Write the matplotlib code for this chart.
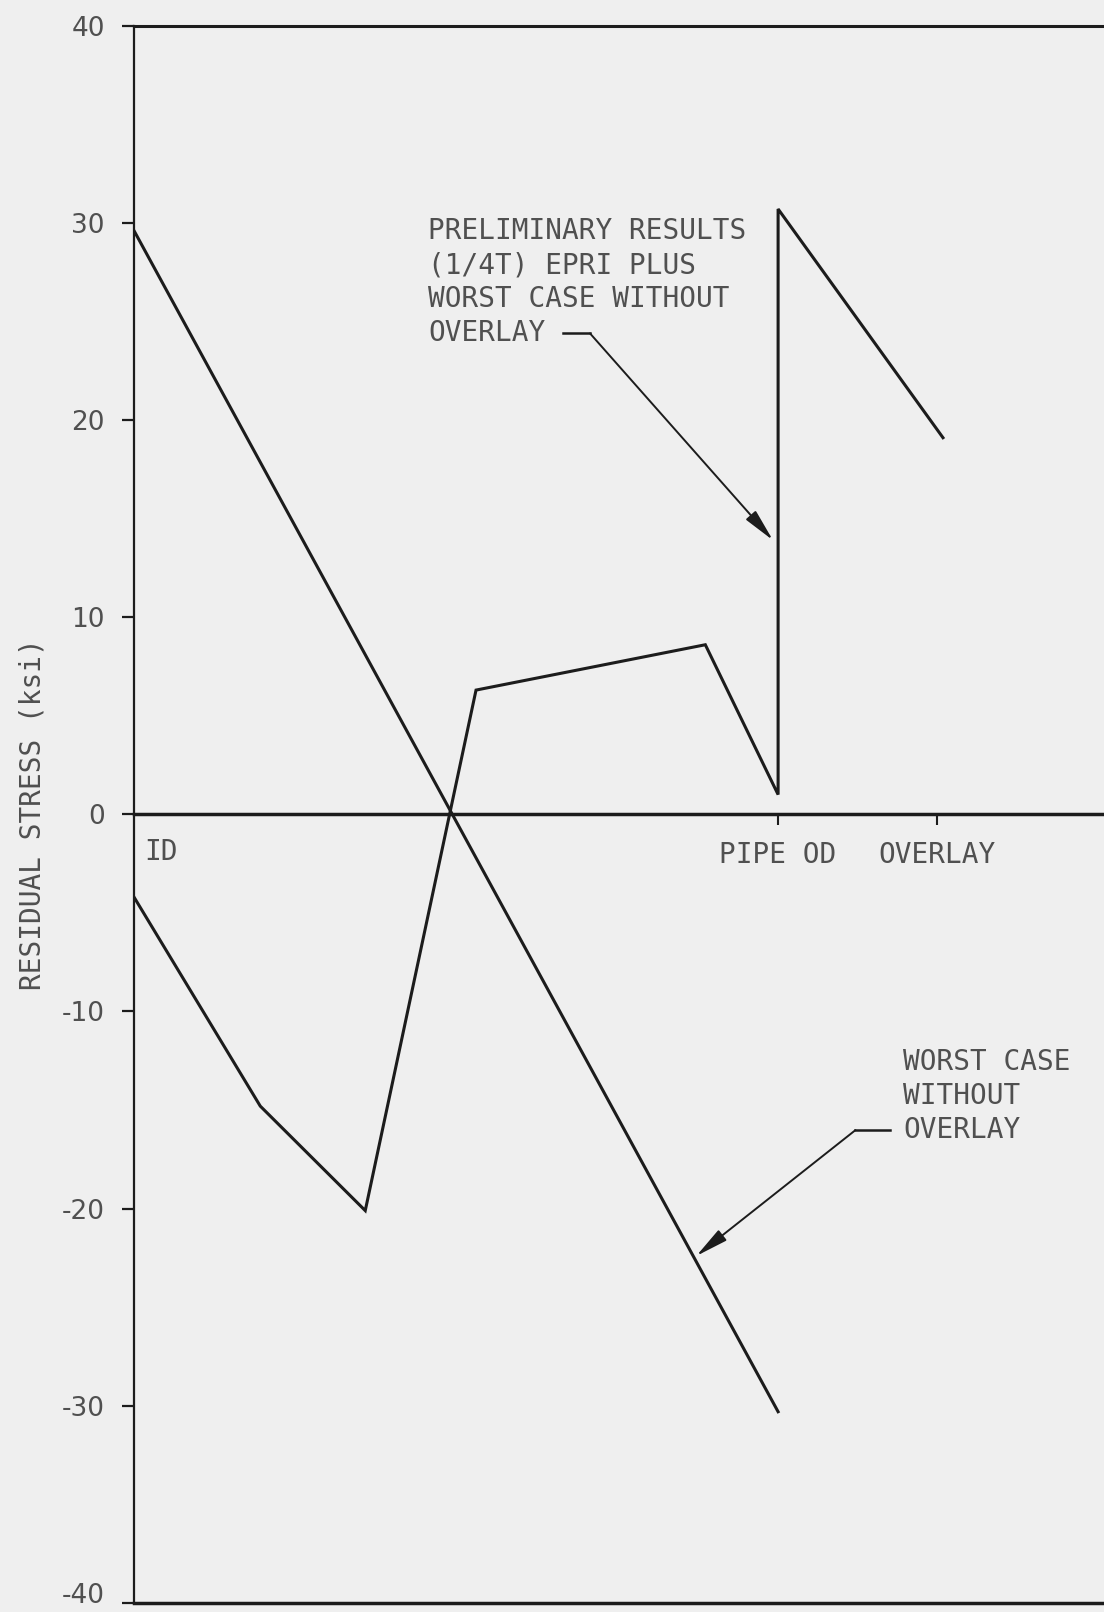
import matplotlib.pyplot as plt

plt.rcParams['axes.unicode_minus'] = False

# through-wall position: 0 = pipe ID, 1 = pipe OD
worst_x = [0.0, 1.0]
worst_y = [29.6, -30.3]

prelim_x = [0.0, 0.196, 0.359, 0.531, 0.887, 1.0, 1.0, 1.256]
prelim_y = [-4.2, -14.8, -20.1, 6.3, 8.6, 1.0, 30.7, 19.1]

y_ticks = [-40, -30, -20, -10, 0, 10, 20, 30, 40]
x_ticks = [1.0, 1.247]
x_labels = ['PIPE OD', 'OVERLAY']

note_prelim = ['PRELIMINARY RESULTS', '(1/4T) EPRI PLUS', 'WORST CASE WITHOUT', 'OVERLAY']
note_worst = ['WORST CASE', 'WITHOUT', 'OVERLAY']

ink = '#1c1c1c'
txt = '#505050'
paper = '#efefef'
mono = 'DejaVu Sans Mono'

fig = plt.figure(figsize=(11.04, 16.12), dpi=100, facecolor=paper)
ax = fig.add_axes([0.1214, 0.0056, 0.8786, 0.9785], facecolor=paper)

ax.plot(worst_x, worst_y, color=ink, lw=2.2, solid_joinstyle='miter')
ax.plot(prelim_x, prelim_y, color=ink, lw=2.2, solid_joinstyle='miter')

ax.set_xlim(0, 1.506)
ax.set_ylim(-40, 40)

# frame: left + top, x-axis moved to zero, extra line at the bottom
ax.spines['right'].set_visible(False)
ax.spines['left'].set_linewidth(1.6)
ax.spines['left'].set_color(ink)
ax.spines['top'].set_linewidth(2.2)
ax.spines['top'].set_color(ink)
ax.spines['bottom'].set_position(('data', 0))
ax.spines['bottom'].set_linewidth(2.5)
ax.spines['bottom'].set_color(ink)
ax.axhline(-40, color=ink, lw=2.5, clip_on=False)

ax.set_yticks(y_ticks)
ax.tick_params(axis='y', direction='out', length=9, width=1.6, color=ink,
               pad=12, labelsize=19, labelcolor=txt)
# keep the lowest label inside the figure
ax.get_yticklabels()[0].set_va('baseline')

ax.set_xticks(x_ticks)
ax.set_xticklabels(x_labels, fontfamily=mono)
ax.tick_params(axis='x', direction='out', length=8, width=1.5, color=ink,
               pad=11, labelsize=20, labelcolor=txt)

ax.text(0.016, -1.93, 'ID', fontfamily=mono, fontsize=20, color=txt,
        ha='left', va='center')

ax.set_ylabel('RESIDUAL STRESS (ksi)', fontfamily=mono, fontsize=20, color=txt)
ax.yaxis.set_label_coords(-0.0907, 0.5)

# callout for the preliminary curve
for i, line in enumerate(note_prelim):
    ax.text(0.4565, 29.56 - 1.724 * i, line, fontfamily=mono, fontsize=20,
            color=txt, ha='left', va='center')
ax.plot([0.666, 0.708], [24.39, 24.39], color=ink, lw=1.8)
ax.annotate('', xy=(0.992, 13.9), xytext=(0.708, 24.39),
            arrowprops=dict(arrowstyle='-|>,head_length=1.0,head_width=0.2',
                            color=ink, lw=1.4, shrinkA=0, shrinkB=0,
                            mutation_scale=20))

# callout for the worst case curve
for i, line in enumerate(note_worst):
    ax.text(1.194, -12.58 - 1.724 * i, line, fontfamily=mono, fontsize=20,
            color=txt, ha='left', va='center')
ax.plot([1.120, 1.174], [-16.02, -16.02], color=ink, lw=1.8)
ax.annotate('', xy=(0.873, -22.4), xytext=(1.120, -16.02),
            arrowprops=dict(arrowstyle='-|>,head_length=1.0,head_width=0.2',
                            color=ink, lw=1.4, shrinkA=0, shrinkB=0,
                            mutation_scale=20))

fig.savefig('out.png', dpi=100, facecolor=paper)
